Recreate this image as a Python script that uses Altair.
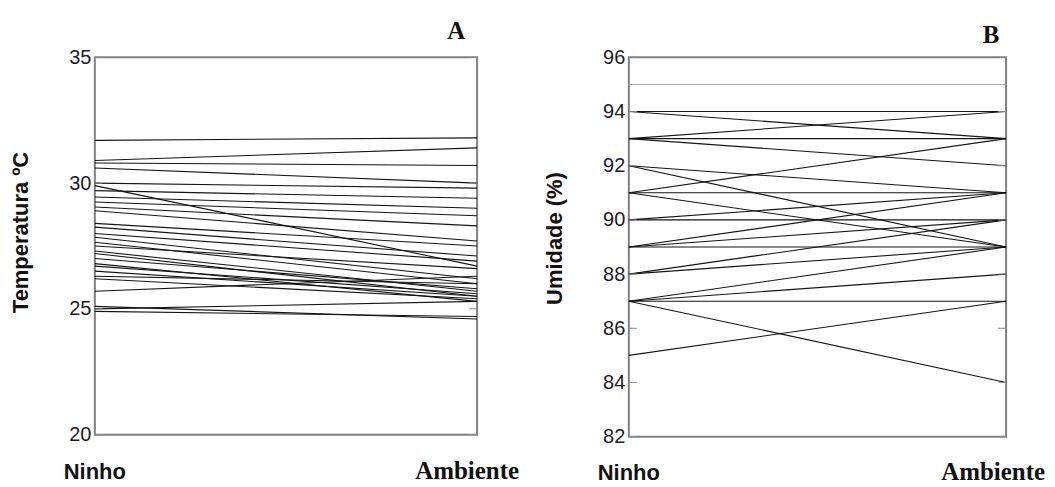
import altair as alt
import pandas as pd

# ---- data ----
categories = ["Ninho", "Ambiente"]

temp_ninho = [31.7, 30.9, 30.8, 30.6, 30.0, 29.9, 29.7, 29.45, 29.25, 29.05, 28.9, 28.4,
              28.25, 28.0, 27.85, 27.65, 27.5, 27.3, 27.2, 27.0, 26.8, 26.7, 26.5, 26.3,
              26.2, 25.7, 25.1, 25.0, 24.9]
temp_amb = [31.8, 31.4, 30.7, 30.0, 29.8, 26.7, 29.4, 29.0, 28.7, 28.3, 27.7, 27.5,
            27.1, 26.9, 26.2, 26.0, 26.6, 25.7, 25.5, 25.8, 25.3, 25.6, 25.5, 26.0,
            25.4, 26.3, 24.6, 25.3, 24.7]

umid_ninho = [95, 94, 94, 93, 93, 93, 92, 92, 91, 91, 91, 90, 90, 89, 89, 89, 88, 88, 87, 87, 87, 87, 85]
umid_amb = [95, 94, 93, 94, 93, 92, 91, 89, 93, 91, 89, 90, 91, 91, 90, 89, 90, 89, 89, 88, 87, 84, 87]
umid_shade = ["#a8a8a8"] + ["#151515"] * 22

temp_ticks = [20, 25, 30, 35]
umid_ticks = [82, 84, 86, 88, 90, 92, 94, 96]

panel_letters = ["A", "B"]


def long_table(left, right, shades=None):
    rows = []
    for i, (a, b) in enumerate(zip(left, right)):
        s = shades[i] if shades else "#151515"
        rows.append({"id": i, "pos": 0, "v": a, "shade": s})
        rows.append({"id": i, "pos": 1, "v": b, "shade": s})
    return pd.DataFrame(rows)


def panel(df, ticks, domain, title, W, H, letter, amb_dx, let_dx, let_y, lab_y, title_y):
    xs = alt.X("pos:Q", scale=alt.Scale(domain=[0, 1]), axis=None)
    ysc = alt.Scale(domain=domain, nice=False, zero=False)
    y_axis = alt.Axis(values=ticks, title=title, labelFont="Liberation Sans",
                      labelFontSize=20, labelColor="#1c1c28", labelPadding=4,
                      titleFont="Liberation Sans", titleFontWeight="bold",
                      titleFontSize=22, titleColor="#111", titlePadding=36,
                      titleY=title_y,
                      domain=False, ticks=False, grid=False)
    yenc = alt.Y("v:Q", scale=ysc, axis=y_axis)
    lines = alt.Chart(df).mark_line(strokeWidth=1.1).encode(
        x=xs, y=yenc, detail="id:N", color=alt.Color("shade:N", scale=None))

    tdf = pd.DataFrame({"v": ticks})
    tick_l = alt.Chart(tdf).mark_rule(color="#8a8a8a", strokeWidth=1).encode(
        x=alt.value(0), x2=alt.value(8), y=yenc)
    tick_r = alt.Chart(tdf).mark_rule(color="#8a8a8a", strokeWidth=1).encode(
        x=alt.value(W - 8), x2=alt.value(W), y=yenc)

    cdf = pd.DataFrame({"pos": [0, 1], "lab": categories})
    ninho = alt.Chart(cdf[cdf.pos == 0]).mark_text(
        font="Liberation Sans", fontWeight="bold", fontSize=22, color="#111",
        baseline="alphabetic", align="center").encode(
        x=xs, y=alt.value(lab_y), text="lab:N")
    amb = alt.Chart(cdf[cdf.pos == 1]).mark_text(
        font="Liberation Serif", fontWeight="bold", fontSize=25, color="#111",
        baseline="alphabetic", align="center", dx=amb_dx).encode(
        x=xs, y=alt.value(lab_y), text="lab:N")

    ldf = pd.DataFrame({"pos": [1], "lab": [letter]})
    let = alt.Chart(ldf).mark_text(
        font="Liberation Serif", fontWeight="bold", fontSize=25, color="#111",
        baseline="alphabetic", align="center", dx=let_dx).encode(
        x=xs, y=alt.value(let_y), text="lab:N")

    return alt.layer(lines, tick_l, tick_r, ninho, amb, let).properties(width=W, height=H)


left = panel(long_table(temp_ninho, temp_amb), temp_ticks, [20, 35],
             "Temperatura ºC", 383, 378, panel_letters[0], -10, -21, -18, 422, 175)
right = panel(long_table(umid_ninho, umid_amb, umid_shade), umid_ticks, [82, 96],
              "Umidade (%)", 378, 380, panel_letters[1], -13, -15, -14, 423, 181)

chart = alt.hconcat(left, right, spacing=152, bounds="flush").properties(
    padding={"left": 0, "top": 10, "right": 0, "bottom": 0}
).configure_view(stroke="#808080", strokeWidth=2)

chart.save("out.html", embed_options={"renderer": "svg", "actions": False})
